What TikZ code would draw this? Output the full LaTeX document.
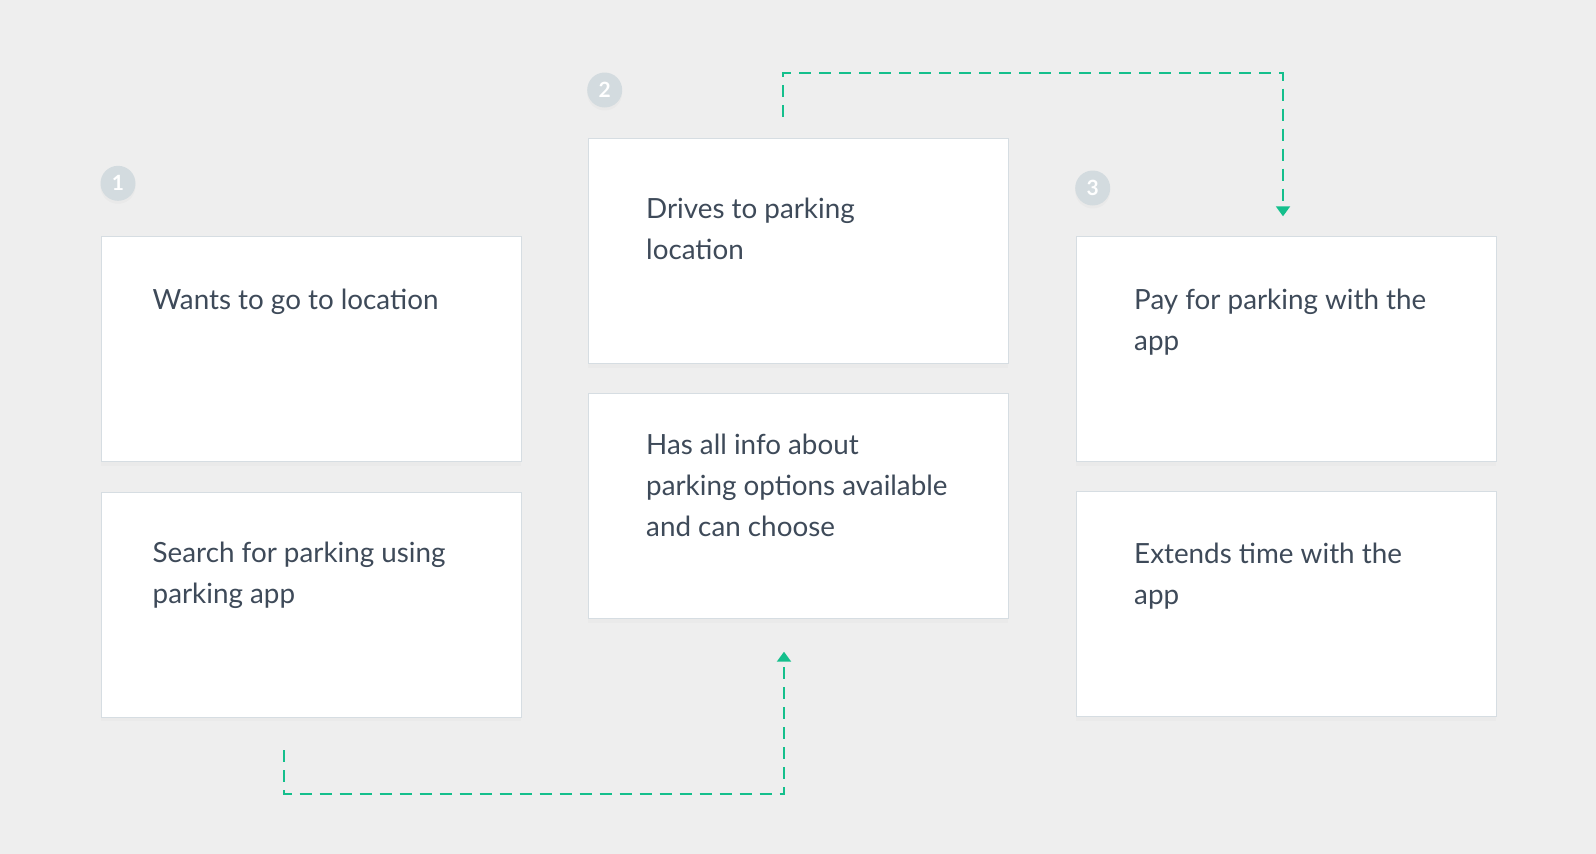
\documentclass[tikz,border=0pt]{standalone}
\usepackage{fontspec}
\setmainfont{Lato}
\usetikzlibrary{positioning, arrows.meta, shadows}
\definecolor{bg}{HTML}{EEEEEE}
\definecolor{ink}{HTML}{3E4A59}
\definecolor{cardline}{HTML}{D6DDE2}
\definecolor{numfill}{HTML}{D3DBDF}
\definecolor{flowgreen}{HTML}{14BF8C}
% lines of a card, baseline at the first line
\newcommand{\cardlines}[1]{\begin{tabular}[t]{@{}l@{}}#1\end{tabular}}

\begin{document}
\begin{tikzpicture}[
    x=1pt, y=-1pt,
    card/.style={rectangle, draw=cardline, fill=white, line width=1pt, anchor=north west,
      minimum width=420pt, minimum height=225pt, inner sep=0pt,
      drop shadow={opacity=0.035, shadow xshift=0pt, shadow yshift=-4pt}},
    txt/.style={anchor=base west, inner sep=0pt, text=ink,
      font=\fontsize{27.8}{41}\selectfont},
    num/.style={circle, fill=numfill, minimum size=35pt, inner sep=0pt, text=white,
      font=\bfseries\fontsize{21}{21}\selectfont,
      drop shadow={opacity=0.04, shadow xshift=0pt, shadow yshift=-3pt}},
    flow/.style={draw=flowgreen, line width=2pt, dash pattern=on 12pt off 8pt,
      -{Triangle[width=14pt, length=10pt]}}
  ]

  \fill[bg] (0,0) rectangle (1596,854);
  \useasboundingbox (0,0) rectangle (1596,854);

  % --- CARDS ---
  \node[card] (want)   at (100.5,236) {};
  \node[card] (search) at (100.5,491.5) {};
  \node[card] (drive)  at (587.5,138.3) {};
  \node[card] (info)   at (587.5,393.3) {};
  \node[card] (pay)    at (1075.5,236.3) {};
  \node[card] (extend) at (1075.5,491) {};

  % --- TEXTS ---
  \node[txt] (want-t)   at ([xshift=52pt, yshift=-73pt]want.north west) {\cardlines{Wants to go to location}};
  \node[txt] (search-t) at ([xshift=52pt, yshift=-71pt]search.north west) {\cardlines{Search for parking using\\parking app}};
  \node[txt] (drive-t)  at ([xshift=58.5pt, yshift=-80pt]drive.north west) {\cardlines{Drives to parking\\location}};
  \node[txt] (info-t)   at ([xshift=58.5pt, yshift=-61pt]info.north west) {\cardlines{Has all info about\\parking options available\\and can choose}};
  \node[txt] (pay-t)    at ([xshift=58.5pt, yshift=-73.5pt]pay.north west) {\cardlines{Pay for parking with the\\app}};
  \node[txt] (extend-t) at ([xshift=58.5pt, yshift=-72.5pt]extend.north west) {\cardlines{Extends time with the\\app}};

  % --- STEP NUMBERS ---
  \node[num] (n1) at (118,183.3) {1};
  \node[num] (n2) at (604.7,90) {2};
  \node[num] (n3) at (1092.7,188) {3};

  % --- FLOW ---
  \coordinate (s1) at (284,750);
  \coordinate (k1) at (284,794.3);
  \coordinate (e1) at (784,651.7);
  \draw[flow] (s1) -- (k1) -| (e1);

  \coordinate (s2) at (783,116.7);
  \coordinate (k2) at (783,72.7);
  \coordinate (e2) at (1283,216.3);
  \draw[flow] (s2) -- (k2) -| (e2);

\end{tikzpicture}
\end{document}
